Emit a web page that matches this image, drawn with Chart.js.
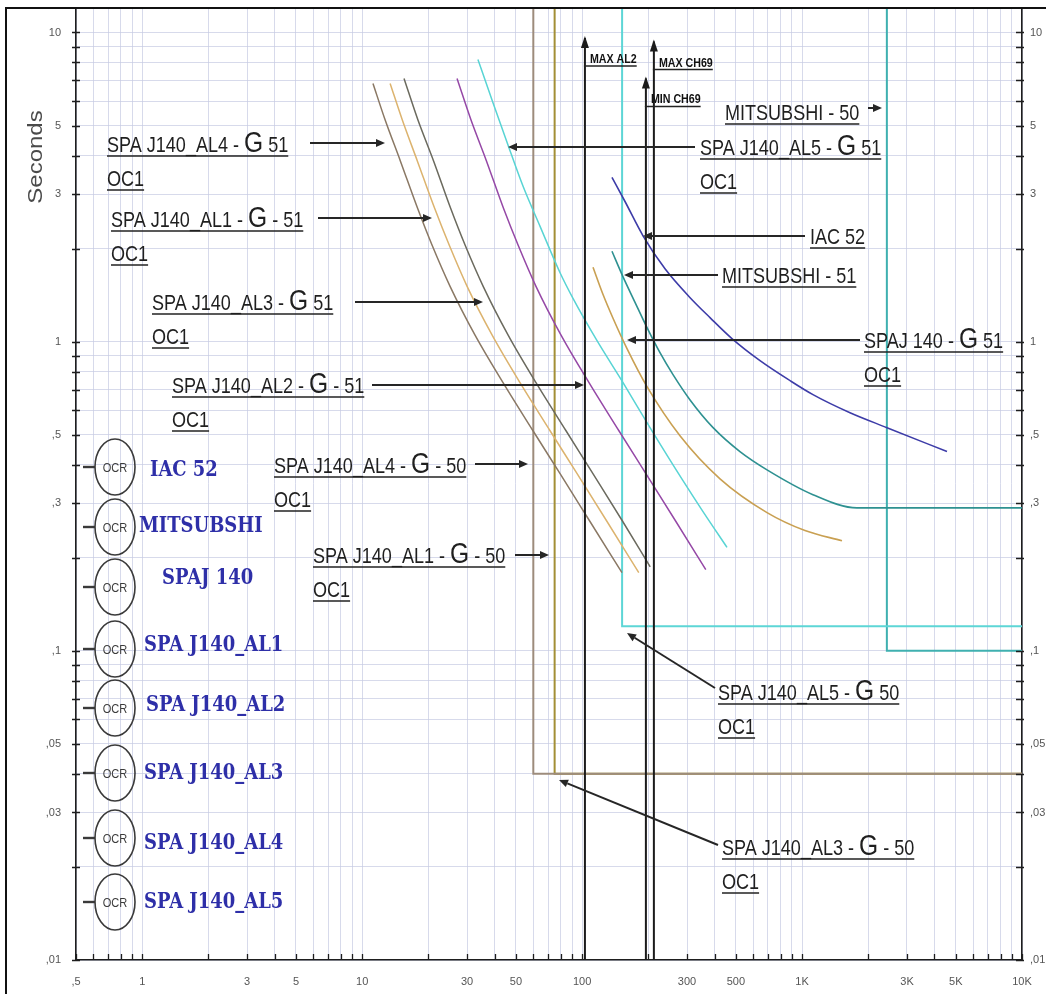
<!DOCTYPE html>
<html>
<head>
<meta charset="utf-8">
<script src="https://cdn.jsdelivr.net/npm/chart.js@4.4.1/dist/chart.umd.min.js"></script>
<style>
  html, body { margin: 0; padding: 0; background: #fff; overflow: hidden; }
  #wrap { position: relative; width: 1046px; height: 994px; }
</style>
</head>
<body>
<div id="wrap"><canvas id="tcc" width="1046" height="994"></canvas></div>
<script>
// ---- Time-current characteristics: current in A, operating time in s ----

// Inverse-time (51) elements
const al4G51Amps = [11.2, 12.7, 14.9, 17.9, 20.8, 25.1, 32.6, 43.7, 59.8, 79.4, 108.6, 151.8];
const al4G51Secs = [6.84, 5.23, 3.85, 2.69, 2.05, 1.51, 1.05, 0.737, 0.515, 0.374, 0.262, 0.179];

const al1G51Amps = [13.4, 15.2, 17.8, 21.4, 24.9, 30.0, 39.0, 52.2, 71.5, 94.9, 129.8, 181];
const al1G51Secs = [6.84, 5.23, 3.85, 2.69, 2.05, 1.51, 1.05, 0.737, 0.515, 0.374, 0.262, 0.179];

const al3G51Amps = [15.5, 17.9, 21.1, 25.3, 29.4, 35.5, 46.1, 61.7, 84.5, 112, 153, 204];
const al3G51Secs = [7.10, 5.23, 3.85, 2.69, 2.05, 1.51, 1.05, 0.737, 0.515, 0.374, 0.262, 0.187];

const al2G51Amps = [27.0, 31.2, 36.7, 44.0, 51.2, 61.7, 80.2, 107.5, 147, 195, 267, 365];
const al2G51Secs = [7.10, 5.23, 3.85, 2.69, 2.05, 1.51, 1.05, 0.737, 0.515, 0.374, 0.262, 0.183];

const al5G51Amps = [33.6, 39.3, 45.6, 53.9, 64.4, 79.4, 90.9, 116.9, 153.5, 203.6, 287.5, 354.5, 455.8];
const al5G51Secs = [8.18, 5.94, 4.41, 3.18, 2.36, 1.67, 1.38, 1.007, 0.737, 0.527, 0.355, 0.282, 0.216];

const iac52Amps = [136.7, 156.7, 189.2, 238.2, 309, 381.5, 480, 644, 881.6, 1121, 1652, 2433, 4560];
const iac52Secs = [3.40, 2.84, 2.20, 1.72, 1.39, 1.196, 1.023, 0.868, 0.748, 0.674, 0.589, 0.527, 0.441];

const mitsu51Amps = [136.7, 153.5, 174, 197.3, 226, 259, 309, 394, 522, 693, 1121, 1777, 10000];
const mitsu51Secs = [1.96, 1.62, 1.34, 1.11, 0.921, 0.782, 0.649, 0.527, 0.441, 0.385, 0.32, 0.29, 0.29];

const spaj140G51Amps = [112.1, 124.5, 138.2, 160, 197.3, 278.6, 423.6, 693, 1031, 1519];
const spaj140G51Secs = [1.74, 1.42, 1.19, 0.949, 0.715, 0.496, 0.36, 0.28, 0.245, 0.227];

// Instantaneous / definite-time (50) elements
const al4G50Amps = [60, 60, 10000];
const al4G50Secs = [12, 0.04, 0.04];
const al1G50Amps = [75, 75, 10000];
const al1G50Secs = [12, 0.04, 0.04];
const al5G50Amps = [152, 152, 10000];
const al5G50Secs = [12, 0.12, 0.12];
const mitsu50Amps = [2430, 2430, 10000];
const mitsu50Secs = [12, 0.1, 0.1];

// Fault current markers
const faultNames = ['MAX AL2', 'MIN CH69', 'MAX CH69'];
const faultAmps = [103, 195, 212];
const faultTopSecs = [9.6, 7.1, 9.35];

// Axis labelling
const currentTickValues = [0.5, 1, 3, 5, 10, 30, 50, 100, 300, 500, 1000, 3000, 5000, 10000];
const currentTickText = [',5', '1', '3', '5', '10', '30', '50', '100', '300', '500', '1K', '3K', '5K', '10K'];
const timeTickValues = [10, 5, 3, 1, 0.5, 0.3, 0.1, 0.05, 0.03, 0.01];
const timeTickText = ['10', '5', '3', '1', ',5', ',3', ',1', ',05', ',03', ',01'];

// Relay legend
const relayNames = ['IAC 52', 'MITSUBSHI', 'SPAJ 140', 'SPA J140_AL1', 'SPA J140_AL2', 'SPA J140_AL3', 'SPA J140_AL4', 'SPA J140_AL5'];

// ---- helpers ----
const SANS = "'Liberation Sans', Arial, sans-serif";
const SQUEEZE = 0.82;

function pairs(xs, ys) { return xs.map((x, i) => ({ x: x, y: ys[i] })); }

function curve(label, xs, ys, color, width) {
  return { label, data: pairs(xs, ys), borderColor: color, borderWidth: width,
           pointRadius: 0, cubicInterpolationMode: 'monotone', fill: false };
}
function step(label, xs, ys, color, width) {
  return { label, data: pairs(xs, ys), borderColor: color, borderWidth: width,
           pointRadius: 0, tension: 0, fill: false };
}

// every decade sub-division, used for grid lines and tick stubs
function decadeSteps(fromExp, toExp, first, last) {
  const out = [];
  for (let e = fromExp; e <= toExp; e++) {
    for (let m = 1; m <= 9; m++) {
      const v = Number(m + 'e' + e);
      if (v >= first - 1e-12 && v <= last + 1e-12) out.push(v);
    }
  }
  return out;
}
const xGridValues = decadeSteps(-1, 4, 0.5, 10000);
const yGridValues = decadeSteps(-2, 1, 0.01, 10);

function labelFor(values, texts, v) {
  for (let i = 0; i < values.length; i++) {
    if (Math.abs(values[i] - v) / values[i] < 1e-6) return texts[i];
  }
  return '';
}

const datasets = [];
faultAmps.forEach((a, i) => {
  datasets.push({ label: faultNames[i], data: [{ x: a, y: 0.01 }, { x: a, y: faultTopSecs[i] }],
    borderColor: '#1b1b1b', borderWidth: 2, pointRadius: 0, tension: 0, fill: false, marker: true });
});
datasets.push(
  curve('SPA J140_AL4 - G 51', al4G51Amps, al4G51Secs, '#8a7864', 1.5),
  curve('SPA J140_AL1 - G 51', al1G51Amps, al1G51Secs, '#dcb36e', 1.5),
  curve('SPA J140_AL3 - G 51', al3G51Amps, al3G51Secs, '#6b6a5e', 1.5),
  curve('SPA J140_AL2 - G 51', al2G51Amps, al2G51Secs, '#9548a6', 1.5),
  curve('SPA J140_AL5 - G 51', al5G51Amps, al5G51Secs, '#58d4d4', 1.5),
  curve('IAC 52', iac52Amps, iac52Secs, '#3d3ca8', 1.6),
  curve('MITSUBSHI - 51', mitsu51Amps, mitsu51Secs, '#2e9191', 1.6),
  curve('SPAJ 140 - G 51', spaj140G51Amps, spaj140G51Secs, '#c9a052', 1.6),
  step('SPA J140_AL4 - G 50', al4G50Amps, al4G50Secs, '#9d8c7c', 2),
  step('SPA J140_AL1 - G 50', al1G50Amps, al1G50Secs, '#a38f35', 2),
  step('SPA J140_AL5 - G 50', al5G50Amps, al5G50Secs, '#5dd6d6', 2),
  step('MITSUBSHI - 50', mitsu50Amps, mitsu50Secs, '#3fb0b0', 2)
);

// ---- annotation drawing ----
const callouts = [
  { text: 'SPA J140_AL4 - |G| 51',   sub: 'OC1', x: 107, y: 152, ax: 310, ay: 143, tx: 385, ty: 143 },
  { text: 'SPA J140_AL1 - |G| - 51', sub: 'OC1', x: 111, y: 227, ax: 318, ay: 218, tx: 432, ty: 218 },
  { text: 'SPA J140_AL3 - |G| 51',   sub: 'OC1', x: 152, y: 310, ax: 355, ay: 302, tx: 483, ty: 302 },
  { text: 'SPA J140_AL2 - |G| - 51', sub: 'OC1', x: 172, y: 393, ax: 372, ay: 385, tx: 584, ty: 385 },
  { text: 'SPA J140_AL4 - |G| - 50', sub: 'OC1', x: 274, y: 473, ax: 475, ay: 464, tx: 528, ty: 464 },
  { text: 'SPA J140_AL1 - |G| - 50', sub: 'OC1', x: 313, y: 563, ax: 515, ay: 555, tx: 549, ty: 555 },
  { text: 'SPA J140_AL5 - |G| 51',   sub: 'OC1', x: 700, y: 155, ax: 695, ay: 147, tx: 508, ty: 147 },
  { text: 'IAC 52',                              x: 810, y: 244, ax: 805, ay: 236, tx: 643, ty: 236 },
  { text: 'MITSUBSHI - 51',                      x: 722, y: 283, ax: 718, ay: 275, tx: 624, ty: 275 },
  { text: 'SPAJ 140 - |G| 51',       sub: 'OC1', x: 864, y: 348, ax: 860, ay: 340, tx: 627, ty: 340 },
  { text: 'SPA J140_AL5 - |G| 50',   sub: 'OC1', x: 718, y: 700, ax: 715, ay: 688, tx: 627, ty: 633 },
  { text: 'SPA J140_AL3 - |G| - 50', sub: 'OC1', x: 722, y: 855, ax: 718, ay: 845, tx: 559, ty: 780 },
  { text: 'MITSUBSHI - 50',                      x: 725, y: 120, ax: 868, ay: 108, tx: 882, ty: 108 }
];
const legendRows = [
  { cy: 467, ty: 470, tx: 150 }, { cy: 527, ty: 526, tx: 139 }, { cy: 587, ty: 578, tx: 162 },
  { cy: 649, ty: 645, tx: 144 }, { cy: 708, ty: 705, tx: 146 }, { cy: 773, ty: 773, tx: 144 },
  { cy: 838, ty: 843, tx: 144 }, { cy: 902, ty: 902, tx: 144 }
];

function squeezed(ctx, str, x, y, font, color, sx) {
  ctx.save();
  ctx.font = font;
  ctx.fillStyle = color;
  ctx.textAlign = 'left';
  ctx.translate(x, y);
  ctx.scale(sx, 1);
  ctx.fillText(str, 0, 0);
  const w = ctx.measureText(str).width * sx;
  ctx.restore();
  return w;
}

function arrowLine(ctx, x1, y1, x2, y2, color) {
  const ang = Math.atan2(y2 - y1, x2 - x1);
  const len = 9, half = 4;
  ctx.save();
  ctx.strokeStyle = color; ctx.fillStyle = color; ctx.lineWidth = 2;
  ctx.beginPath();
  ctx.moveTo(x1, y1);
  ctx.lineTo(x2 - Math.cos(ang) * len, y2 - Math.sin(ang) * len);
  ctx.stroke();
  ctx.beginPath();
  ctx.moveTo(x2, y2);
  ctx.lineTo(x2 - Math.cos(ang) * len - Math.sin(ang) * half, y2 - Math.sin(ang) * len + Math.cos(ang) * half);
  ctx.lineTo(x2 - Math.cos(ang) * len + Math.sin(ang) * half, y2 - Math.sin(ang) * len - Math.cos(ang) * half);
  ctx.closePath();
  ctx.fill();
  ctx.restore();
}

function underline(ctx, x1, x2, y) {
  ctx.save();
  ctx.strokeStyle = '#222'; ctx.lineWidth = 1.6;
  ctx.beginPath(); ctx.moveTo(x1, y); ctx.lineTo(x2, y); ctx.stroke();
  ctx.restore();
}

const annotate = {
  id: 'annotate',
  afterDatasetsDraw(chart) {
    const ctx = chart.ctx;
    // arrowheads and captions on the fault current markers
    chart.data.datasets.forEach((ds, i) => {
      if (!ds.marker) return;
      const top = chart.getDatasetMeta(i).data[1];
      ctx.save();
      ctx.fillStyle = ds.borderColor;
      ctx.beginPath();
      ctx.moveTo(top.x, top.y - 2);
      ctx.lineTo(top.x - 4, top.y + 10);
      ctx.lineTo(top.x + 4, top.y + 10);
      ctx.closePath();
      ctx.fill();
      ctx.restore();
      const base = top.y + 25;
      const w = squeezed(ctx, ds.label, top.x + 5, base, 'bold 13px ' + SANS, '#111', SQUEEZE);
      underline(ctx, top.x - 1, top.x + 5 + w, base + 3);
    });
  },
  afterDraw(chart) {
    const ctx = chart.ctx;
    const area = chart.chartArea;

    // tick stubs on every decade step
    ctx.save();
    ctx.strokeStyle = '#1e1e1e';
    ctx.lineWidth = 1.3;
    ctx.beginPath();
    xGridValues.forEach(v => {
      const px = Math.round(chart.scales.x.getPixelForValue(v)) + 0.5;
      ctx.moveTo(px, area.bottom); ctx.lineTo(px, area.bottom - 6);
    });
    yGridValues.forEach(v => {
      const py = Math.round(chart.scales.y.getPixelForValue(v)) + 0.5;
      ctx.moveTo(area.left - 4, py); ctx.lineTo(area.left + 4, py);
      ctx.moveTo(area.right - 6, py); ctx.lineTo(area.right + 2, py);
    });
    ctx.stroke();
    ctx.restore();

    // callout labels with pointer arrows
    callouts.forEach(c => {
      const parts = c.text.split('|');
      let x = c.x;
      parts.forEach((p, k) => {
        const big = k % 2 === 1;
        x += squeezed(ctx, p, x, c.y, (big ? '30px ' : '22px ') + SANS, '#1f1f1f', SQUEEZE);
      });
      underline(ctx, c.x, x, c.y + 4);
      if (c.sub) {
        const w = squeezed(ctx, c.sub, c.x, c.y + 34, '22px ' + SANS, '#1f1f1f', SQUEEZE);
        underline(ctx, c.x, c.x + w, c.y + 38);
      }
      arrowLine(ctx, c.ax, c.ay, c.tx, c.ty, '#262626');
    });

    // relay symbols
    relayNames.forEach((name, i) => {
      const r = legendRows[i];
      ctx.save();
      ctx.strokeStyle = '#3a3a3a';
      ctx.lineWidth = 2.4;
      ctx.beginPath(); ctx.moveTo(83, r.cy); ctx.lineTo(95, r.cy); ctx.stroke();
      ctx.lineWidth = 1.6;
      ctx.beginPath(); ctx.ellipse(115, r.cy, 20, 28, 0, 0, Math.PI * 2); ctx.stroke();
      ctx.restore();
      ctx.save();
      ctx.font = '13px ' + SANS;
      const ow = ctx.measureText('OCR').width * 0.85;
      ctx.restore();
      ctx.save(); ctx.textBaseline = 'middle';
      squeezed(ctx, 'OCR', 115 - ow / 2, r.cy + 1, '13px ' + SANS, '#3c3c3c', 0.85);
      ctx.restore();
      ctx.save(); ctx.textBaseline = 'middle';
      squeezed(ctx, name, r.tx, r.ty, "bold 23px 'DejaVu Serif', serif", '#2e2fa8', 0.78);
      ctx.restore();
    });

    // vertical axis caption
    ctx.save();
    ctx.translate(37, 157);
    ctx.rotate(-Math.PI / 2);
    ctx.scale(1, 0.82);
    ctx.font = '24px ' + SANS;
    ctx.fillStyle = '#4a4a4a';
    ctx.textAlign = 'center';
    ctx.textBaseline = 'middle';
    ctx.fillText('Seconds', 0, 0);
    ctx.restore();

    // outer frame
    ctx.save();
    ctx.strokeStyle = '#111';
    ctx.lineWidth = 2;
    ctx.beginPath();
    ctx.moveTo(6, 994); ctx.lineTo(6, area.top); ctx.lineTo(1046, area.top);
    ctx.stroke();
    ctx.restore();
  }
};

const tickFont = { family: "'Liberation Sans', Arial, sans-serif", size: 11 };
const gridColour = 'rgba(198,202,226,0.7)';

// scales keep their fixed box sizes, with no extra room for edge labels
function fixBox(size, vertical) {
  return s => {
    if (vertical) { s.width = size; s.paddingTop = 0; s.paddingBottom = 0; }
    else { s.height = size; s.paddingLeft = 0; s.paddingRight = 0; }
  };
}

new Chart(document.getElementById('tcc'), {
  type: 'line',
  data: { datasets },
  plugins: [annotate],
  options: {
    responsive: false,
    animation: false,
    devicePixelRatio: 1,
    layout: { padding: { top: 8, left: 0, right: 0, bottom: 0 } },
    plugins: { legend: { display: false }, tooltip: { enabled: false }, title: { display: false } },
    scales: {
      x: {
        type: 'logarithmic', position: 'bottom', min: 0.5, max: 10000,
        afterBuildTicks: s => { s.ticks = xGridValues.map(v => ({ value: v })); },
        afterFit: fixBox(34, false),
        grid: { color: gridColour, lineWidth: 1, drawTicks: false },
        border: { display: true, color: '#1e1e1e', width: 1.6 },
        ticks: { autoSkip: false, maxRotation: 0, minRotation: 0, padding: 15, color: '#555', font: tickFont,
                 callback: v => labelFor(currentTickValues, currentTickText, v) }
      },
      y: {
        type: 'logarithmic', position: 'left', min: 0.01, max: 12,
        afterBuildTicks: s => { s.ticks = yGridValues.map(v => ({ value: v })); },
        afterFit: fixBox(76, true),
        grid: { color: gridColour, lineWidth: 1, drawTicks: false },
        border: { display: true, color: '#1e1e1e', width: 1.6 },
        ticks: { autoSkip: false, padding: 15, color: '#555', font: tickFont,
                 callback: v => labelFor(timeTickValues, timeTickText, v) }
      },
      y2: {
        type: 'logarithmic', position: 'right', min: 0.01, max: 12,
        afterBuildTicks: s => { s.ticks = yGridValues.map(v => ({ value: v })); },
        afterFit: fixBox(24, true),
        grid: { drawOnChartArea: false, drawTicks: false },
        border: { display: true, color: '#1e1e1e', width: 1.6 },
        ticks: { autoSkip: false, padding: 8, color: '#555', font: tickFont,
                 callback: v => labelFor(timeTickValues, timeTickText, v) }
      }
    }
  }
});
</script>
</body>
</html>
